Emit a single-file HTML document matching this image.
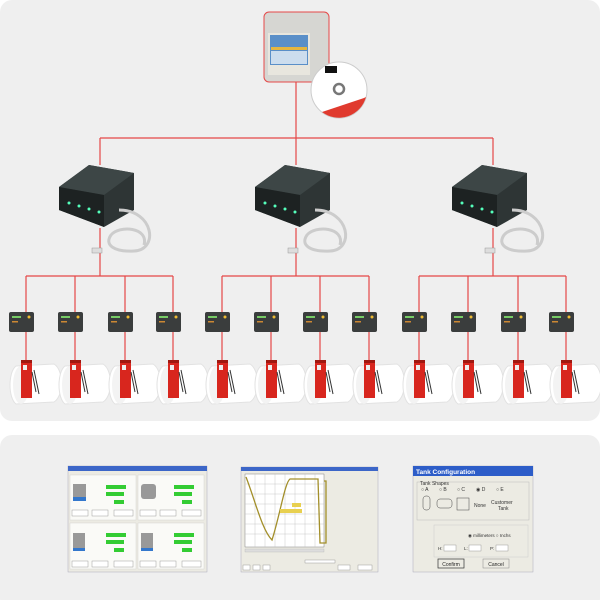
<!DOCTYPE html>
<html><head><meta charset="utf-8"><style>
html,body{margin:0;padding:0;background:#fff;}
svg{display:block;font-family:"Liberation Sans",sans-serif;}
</style></head><body>
<svg width="600" height="600" viewBox="0 0 600 600" xmlns="http://www.w3.org/2000/svg">
<defs>
<g id="hub">
  <polygon points="0,22 30,0 75,8 75,45 45,62 0,45" fill="#2e3535"/>
  <polygon points="0,22 30,0 75,8 45,30" fill="#3d4646"/>
  <polygon points="0,22 45,30 45,62 0,45" fill="#1d2222"/>
  <circle cx="10" cy="38" r="1.5" fill="#5fb"/><circle cx="20" cy="41" r="1.5" fill="#5fb"/><circle cx="30" cy="44" r="1.5" fill="#5fb"/><circle cx="40" cy="47" r="1.5" fill="#5fb"/>
  <path d="M60,45 C95,45 100,85 75,86 C55,87 45,80 52,70 C60,60 90,62 85,80" fill="none" stroke="#ccc" stroke-width="3"/>
  <rect x="33" y="83" width="10" height="5" fill="#ddd" stroke="#999" stroke-width="0.5"/>
</g>
<g id="dev">
  <rect x="0" y="0" width="25" height="20" rx="2" fill="#3a3d3d"/>
  <rect x="3" y="4" width="9" height="2" fill="#7c6"/>
  <circle cx="20" cy="5" r="1.5" fill="#eb3"/>
  <rect x="3" y="9" width="6" height="1.5" fill="#c83"/>
</g>
<g id="tank">
  <path d="M4,6 L42,4 C52,10 52,36 42,42 L4,44 C-4,38 -4,12 4,6 Z" fill="#fff" stroke="#e2e2e2"/>
  <ellipse cx="9" cy="25" rx="8" ry="19" fill="#f3f3f3"/>
  <rect x="9" y="0" width="11" height="38" fill="#d8261e"/>
  <rect x="9" y="0" width="11" height="3" fill="#a01810"/>
  <rect x="11" y="5" width="4" height="5" fill="#eee"/>
  <path d="M20,12 L24,32 M22,10 L27,34" stroke="#333" stroke-width="1" fill="none"/>
</g>
</defs>
<rect x="0" y="0" width="600" height="421" rx="12" fill="#efefef"/>
<rect x="0" y="435" width="600" height="175" rx="12" fill="#efefef"/>

<g stroke="#e54848" stroke-width="1.2" fill="none">
<path d="M296,82 V138 M100,138 H493 M100,138 V165 M296,138 V165 M493,138 V165"/>
<path d="M100,228 V276 M296,228 V276 M493,228 V276"/>
<path d="M26,276 H173 M222,276 H369 M419,276 H566"/>
<path d="M26,276 V362 M75,276 V362 M125,276 V362 M173,276 V362 M222,276 V362 M271,276 V362 M320,276 V362 M369,276 V362 M419,276 V362 M468,276 V362 M518,276 V362 M566,276 V362"/>
</g>

<!-- computer -->
<rect x="264" y="12" width="65" height="70" rx="5" fill="#d6d6d2" stroke="#e54848" stroke-width="1"/>
<rect x="268" y="33" width="42" height="42" fill="#e8e6de"/>
<rect x="270" y="35" width="38" height="30" fill="#5a8fc8"/>
<rect x="271" y="47" width="36" height="3" fill="#e5b640"/>
<rect x="271" y="51" width="36" height="13" fill="#cde"/>
<circle cx="339" cy="90" r="28" fill="#fff" stroke="#ccc"/>
<path d="M322,112 A28,28 0 0 0 366,97 L364,98 Z" fill="#e03a2e"/>
<circle cx="339" cy="89" r="5" fill="none" stroke="#777" stroke-width="2.5"/>
<rect x="325" y="66" width="12" height="7" fill="#111"/>

<use href="#hub" x="59" y="165"/>
<use href="#hub" x="255" y="165"/>
<use href="#hub" x="452" y="165"/>

<g>
<use href="#dev" x="9" y="312"/><use href="#dev" x="58" y="312"/><use href="#dev" x="108" y="312"/><use href="#dev" x="156" y="312"/>
<use href="#dev" x="205" y="312"/><use href="#dev" x="254" y="312"/><use href="#dev" x="303" y="312"/><use href="#dev" x="352" y="312"/>
<use href="#dev" x="402" y="312"/><use href="#dev" x="451" y="312"/><use href="#dev" x="501" y="312"/><use href="#dev" x="549" y="312"/>
</g>
<g>
<use href="#tank" x="12" y="360"/><use href="#tank" x="61" y="360"/><use href="#tank" x="111" y="360"/><use href="#tank" x="159" y="360"/>
<use href="#tank" x="208" y="360"/><use href="#tank" x="257" y="360"/><use href="#tank" x="306" y="360"/><use href="#tank" x="355" y="360"/>
<use href="#tank" x="405" y="360"/><use href="#tank" x="454" y="360"/><use href="#tank" x="504" y="360"/><use href="#tank" x="552" y="360"/>
</g>

<!-- screenshot 1 -->
<rect x="68" y="466" width="139" height="106" fill="#ecebe3" stroke="#aab" stroke-width="0.5"/>
<rect x="68" y="466" width="139" height="5" fill="#3c66c8"/>
<g fill="#fafaf7" stroke="#ccc" stroke-width="0.4">
<rect x="70" y="475" width="66" height="45"/><rect x="138" y="475" width="66" height="45"/>
<rect x="70" y="523" width="66" height="46"/><rect x="138" y="523" width="66" height="46"/>
</g>
<g fill="#3c3">
<rect x="106" y="485" width="20" height="4"/><rect x="106" y="492" width="18" height="4"/><rect x="114" y="500" width="10" height="4"/>
<rect x="174" y="485" width="20" height="4"/><rect x="174" y="492" width="18" height="4"/><rect x="182" y="500" width="10" height="4"/>
<rect x="106" y="533" width="20" height="4"/><rect x="106" y="540" width="18" height="4"/><rect x="114" y="548" width="10" height="4"/>
<rect x="174" y="533" width="20" height="4"/><rect x="174" y="540" width="18" height="4"/><rect x="182" y="548" width="10" height="4"/>
</g>
<g fill="#999"><rect x="73" y="484" width="13" height="17"/><rect x="141" y="484" width="15" height="15" rx="3"/><rect x="73" y="533" width="12" height="18"/><rect x="141" y="533" width="12" height="18"/></g>
<g fill="#37c"><rect x="73" y="497" width="13" height="4"/><rect x="73" y="548" width="12" height="3"/><rect x="141" y="548" width="12" height="3"/></g>
<g fill="#fff" stroke="#888" stroke-width="0.4">
<rect x="72" y="510" width="16" height="6"/><rect x="92" y="510" width="16" height="6"/><rect x="114" y="510" width="19" height="6"/>
<rect x="140" y="510" width="16" height="6"/><rect x="160" y="510" width="16" height="6"/><rect x="182" y="510" width="19" height="6"/>
<rect x="72" y="561" width="16" height="6"/><rect x="92" y="561" width="16" height="6"/><rect x="114" y="561" width="19" height="6"/>
<rect x="140" y="561" width="16" height="6"/><rect x="160" y="561" width="16" height="6"/><rect x="182" y="561" width="19" height="6"/>
</g>

<!-- screenshot 2 -->
<rect x="241" y="467" width="137" height="105" fill="#ecebe3" stroke="#aab" stroke-width="0.5"/>
<rect x="241" y="467" width="137" height="4" fill="#3c66c8"/>
<rect x="245" y="474" width="79" height="73" fill="#fff" stroke="#666" stroke-width="0.4"/>
<g stroke="#bbb" stroke-width="0.4">
<path d="M255,474V547M265,474V547M275,474V547M285,474V547M295,474V547M305,474V547M315,474V547"/>
<path d="M245,484H324M245,494H324M245,504H324M245,514H324M245,524H324M245,534H324"/>
</g>
<path d="M246,477 C255,500 262,530 272,540 C280,515 285,482 290,479 H318 L320,543 H326 V481 H324" fill="none" stroke="#a38f2a" stroke-width="1.3"/>
<rect x="280" y="509" width="22" height="4" fill="#e8d050"/>
<rect x="292" y="503" width="9" height="4" fill="#e8d050"/>
<rect x="245" y="549" width="79" height="3" fill="#ddd" stroke="#aaa" stroke-width="0.3"/>
<g fill="#fff" stroke="#888" stroke-width="0.4"><rect x="243" y="565" width="7" height="5"/><rect x="253" y="565" width="7" height="5"/><rect x="263" y="565" width="7" height="5"/><rect x="338" y="565" width="12" height="5"/><rect x="358" y="565" width="14" height="5"/><rect x="305" y="560" width="30" height="3"/></g>

<!-- screenshot 3 -->
<rect x="413" y="466" width="120" height="106" fill="#ecebe3" stroke="#aab" stroke-width="0.5"/>
<rect x="413" y="466" width="120" height="10" fill="#2d5dc8"/>
<text x="416" y="474" font-size="6.5" font-weight="bold" fill="#fff">Tank Configuration</text>
<rect x="417" y="482" width="112" height="38" fill="none" stroke="#bbb" stroke-width="0.5"/>
<text x="420" y="485" font-size="5" fill="#333">Tank Shapes</text>
<g font-size="5" fill="#333"><text x="421" y="491">○ A</text><text x="439" y="491">○ B</text><text x="457" y="491">○ C</text><text x="476" y="491">◉ D</text><text x="496" y="491">○ E</text><text x="474" y="507">None</text><text x="491" y="504">Customer</text><text x="498" y="510">Tank</text></g>
<g fill="none" stroke="#444" stroke-width="0.5"><rect x="423" y="496" width="7" height="14" rx="3"/><rect x="437" y="499" width="15" height="9" rx="3"/><rect x="457" y="498" width="12" height="12"/></g>
<rect x="434" y="525" width="94" height="32" fill="none" stroke="#ccc" stroke-width="0.5"/>
<text x="468" y="537" font-size="4.5" fill="#333">◉ millimeters  ○ Inchs</text>
<g fill="#fff" stroke="#888" stroke-width="0.4"><rect x="444" y="545" width="12" height="6"/><rect x="469" y="545" width="12" height="6"/><rect x="496" y="545" width="12" height="6"/></g>
<g font-size="4.5" fill="#333"><text x="438" y="550">H:</text><text x="464" y="550">L:</text><text x="490" y="550">P:</text></g>
<rect x="438" y="559" width="26" height="9" fill="#ecebe3" stroke="#333" stroke-width="0.7"/>
<rect x="483" y="559" width="26" height="9" fill="#ecebe3" stroke="#888" stroke-width="0.5"/>
<text x="451" y="566" font-size="5" text-anchor="middle" fill="#222">Confirm</text>
<text x="496" y="566" font-size="5" text-anchor="middle" fill="#222">Cancel</text>
</svg>
</body></html>
